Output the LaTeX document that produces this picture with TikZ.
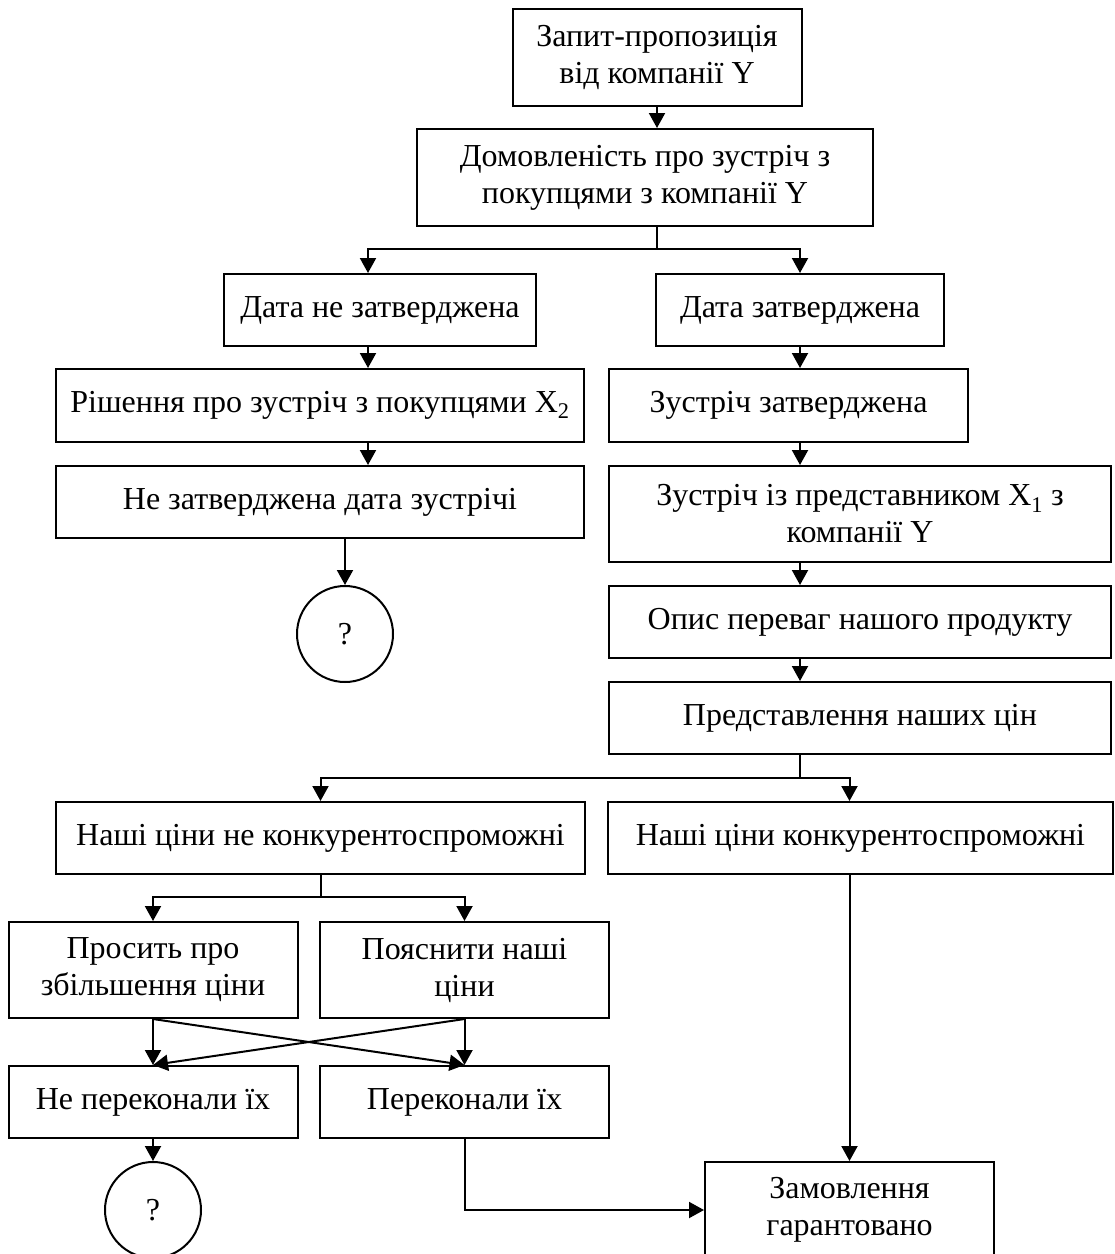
\documentclass[tikz,border=0pt]{standalone}
\usepackage{fontspec}
\setmainfont{Liberation Serif}
\usetikzlibrary{arrows.meta}
\begin{document}
\begin{tikzpicture}[x=1pt,y=-1pt,
  box/.style={draw, line width=2pt, inner sep=0pt, align=center,
    font=\fontsize{32}{37}\selectfont},
  qcircle/.style={draw, circle, line width=2pt, minimum size=96pt,
    inner sep=0pt, font=\fontsize{32}{37}\selectfont},
  link/.style={line width=2pt},
  arr/.style={link, -{Triangle[length=15pt,width=16pt]}}]
\useasboundingbox (0,0) rectangle (1115,1254);
\clip (0,0) rectangle (1115,1254);

% blocks
\node[box, minimum width=289pt, minimum height=97pt] (b1) at (657,57.5) {Запит-пропозиція\\від компанії Y};
\node[box, minimum width=456pt, minimum height=97pt] (b2) at (645,177.5) {Домовленість про зустріч з\\покупцями з компанії Y};
\node[box, minimum width=312pt, minimum height=72pt] (b3) at (380,310) {Дата не затверджена};
\node[box, minimum width=288pt, minimum height=72pt] (b4) at (800,310) {Дата затверджена};
\node[box, minimum width=528pt, minimum height=73pt] (b5) at (320,405.5) {Рішення про зустріч з покупцями X\textsubscript{2}};
\node[box, minimum width=359pt, minimum height=73pt] (b6) at (788.5,405.5) {Зустріч затверджена};
\node[box, minimum width=528pt, minimum height=72pt] (b7) at (320,502) {Не затверджена дата зустрічі};
\node[box, minimum width=502pt, minimum height=96pt] (b8) at (860,514) {Зустріч із представником X\textsubscript{1} з\\компанії Y};
\node[box, minimum width=502pt, minimum height=72pt] (b9) at (860,622) {Опис переваг нашого продукту};
\node[box, minimum width=502pt, minimum height=72pt] (b10) at (860,718) {Представлення наших цін};
\node[box, minimum width=529pt, minimum height=72pt] (b11) at (320.5,838) {Наші ціни не конкурентоспроможні};
\node[box, minimum width=505pt, minimum height=72pt] (b12) at (860.5,838) {Наші ціни конкурентоспроможні};
\node[box, minimum width=289pt, minimum height=96pt] (b13) at (153,970) {Просить про\\збільшення ціни};
\node[box, minimum width=289pt, minimum height=96pt] (b14) at (464.5,970) {Пояснити наші\\ціни};
\node[box, minimum width=289pt, minimum height=72pt] (b15) at (153,1102) {Не переконали їх};
\node[box, minimum width=289pt, minimum height=72pt] (b16) at (464.5,1102) {Переконали їх};
\node[box, minimum width=289pt, minimum height=96pt] (b17) at (849.5,1210) {Замовлення\\гарантовано};
\node[qcircle] (c1) at (345,634) {?};
\node[qcircle] (c2) at (153,1210) {?};

% helper positions for vertical runs and branch points
\coordinate (xl) at (368,0);
\coordinate (xr) at (800,0);
\coordinate (j1) at (657,249);
\coordinate (j2) at (800,778);
\coordinate (j3) at (321,897);

% connectors
\draw[arr] (b1.south) -- (b1.south |- b2.north);
\draw[link] (b2.south -| j1) -- (j1);
\draw[arr] (j1) -| (b3.north -| xl);
\draw[arr] (j1) -| (b4.north);

\draw[arr] (b3.south -| xl) -- (b5.north -| xl);
\draw[arr] (b5.south -| xl) -- (b7.north -| xl);
\draw[arr] (b7.south -| c1.north) -- (c1.north);

\draw[arr] (b4.south) -- (b6.north -| xr);
\draw[arr] (b6.south -| xr) -- (b8.north -| xr);
\draw[arr] (b8.south -| xr) -- (b9.north -| xr);
\draw[arr] (b9.south -| xr) -- (b10.north -| xr);

\draw[link] (b10.south -| j2) -- (j2);
\draw[arr] (j2) -| (b11.north);
\draw[arr] (j2) -| (b12.north -| b17.north);

\draw[link] (b11.south -| j3) -- (j3);
\draw[arr] (j3) -| (b13.north);
\draw[arr] (j3) -| (b14.north);

\draw[arr] (b13.south) -- (b15.north);
\draw[arr] (b14.south) -- (b16.north);
\draw[arr] (b13.south) -- (b16.north);
\draw[arr] (b14.south) -- (b15.north);

\draw[arr] (b15.south) -- (c2.north);
\draw[arr] (b12.south -| b17.north) -- (b17.north);
\draw[arr] (b16.south) |- (b17.west);
\end{tikzpicture}
\end{document}
